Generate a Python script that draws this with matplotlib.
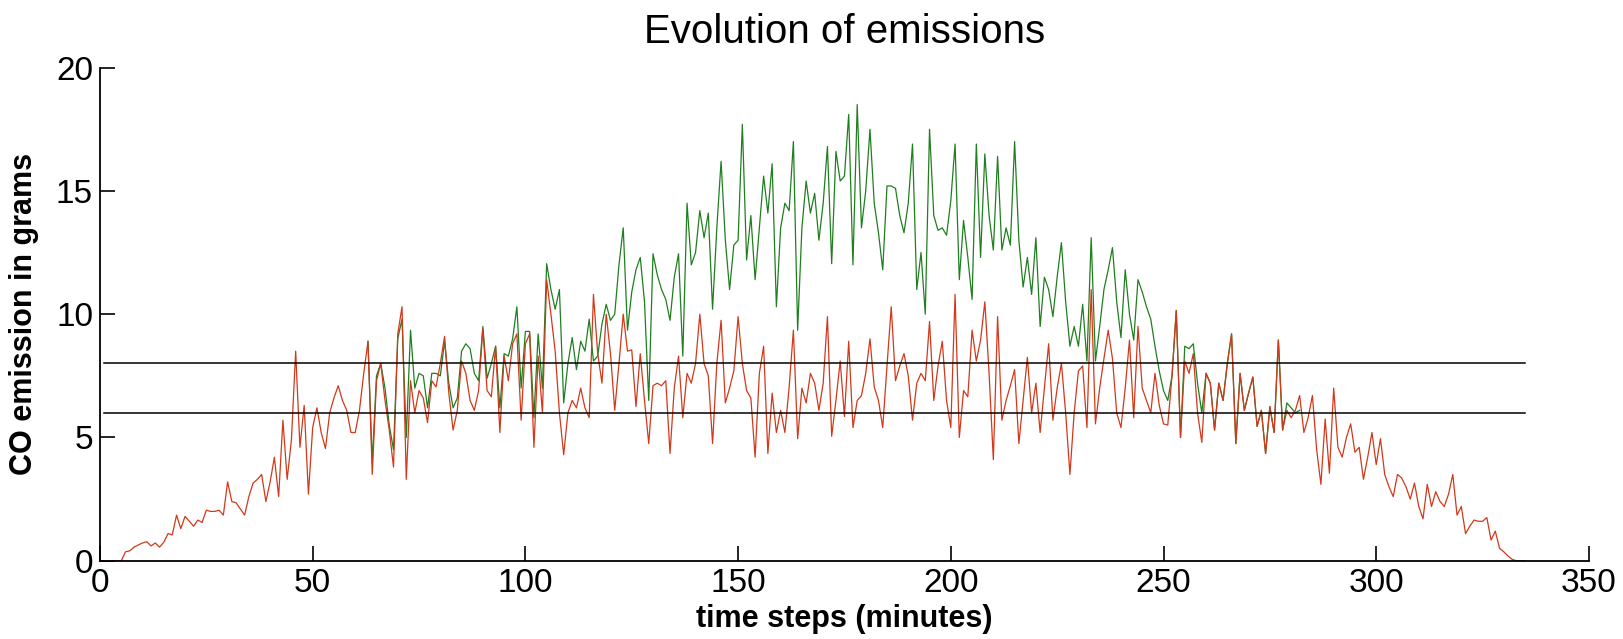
import numpy as np
import matplotlib
matplotlib.use("Agg")
import matplotlib.pyplot as plt

plt.rcParams['font.family'] = ['Liberation Sans', 'DejaVu Sans']

# time steps (minutes) of both runs
minutes = np.arange(1, 336)
minutes_green = np.arange(63, 283)

# CO emission (grams) - red run, minutes 1..335
co_red = [
    0, 0, 0, 0, 0, 0.36, 0.4, 0.55, 0.64, 0.72,
    0.77, 0.6, 0.72, 0.55, 0.75, 1.1, 1.05, 1.85, 1.3, 1.8,
    1.6, 1.4, 1.65, 1.55, 2.05, 2.0, 2.0, 2.05, 1.85, 3.2,
    2.4, 2.35, 2.1, 1.85, 2.6, 3.15, 3.3, 3.5, 2.4, 3.2,
    4.2, 2.6, 5.7, 3.3, 4.9, 8.5, 4.6, 6.3, 2.7, 5.4,
    6.2, 5.2, 4.55, 6.0, 6.6, 7.1, 6.5, 6.1, 5.2, 5.2,
    6.1, 7.6, 8.9, 3.5, 7.3, 8.0, 6.5, 5.3, 3.8, 9.2,
    10.3, 3.3, 7.3, 6.0, 6.9, 6.6, 5.6, 7.3, 7.05, 8.0,
    9.1, 6.8, 5.3, 6.1, 8.1, 7.6, 6.5, 6.1, 6.9, 9.4,
    6.9, 6.65, 8.7, 5.2, 8.3, 7.3, 8.8, 9.2, 5.7, 8.8,
    9.2, 4.6, 8.3, 6.0, 11.4, 10.0, 8.5, 6.0, 4.3, 6.0,
    6.5, 6.2, 7.0, 6.2, 5.8, 10.8, 8.4, 7.2, 10.0, 8.4,
    6.1, 8.0, 10.0, 8.5, 8.55, 6.25, 8.4, 6.5, 4.75, 7.1,
    7.2, 7.1, 7.3, 4.35, 7.0, 8.3, 5.8, 7.6, 7.2, 8.0,
    10.0, 8.0, 7.5, 4.75, 8.0, 9.75, 6.4, 7.0, 7.7, 9.9,
    8.0, 6.9, 6.6, 4.2, 7.6, 8.7, 4.35, 6.8, 5.2, 6.1,
    5.2, 7.05, 9.35, 4.95, 7.0, 6.4, 7.6, 7.2, 6.1, 7.2,
    9.9, 5.05, 6.5, 8.1, 5.85, 8.9, 5.4, 6.5, 6.7, 7.6,
    9.0, 7.05, 6.5, 5.4, 7.9, 10.3, 7.3, 7.9, 8.4, 7.5,
    5.7, 7.2, 7.6, 7.3, 9.7, 6.5, 7.9, 8.9, 6.5, 5.4,
    10.8, 5.0, 6.9, 6.65, 9.35, 8.1, 8.95, 10.5, 7.6, 4.1,
    9.9, 5.7, 6.5, 7.1, 7.75, 4.75, 6.5, 8.25, 6.0, 7.2,
    5.2, 7.0, 8.8, 5.7, 7.0, 8.0, 6.0, 3.5, 6.0, 7.7,
    7.9, 5.4, 11.0, 5.55, 7.0, 8.2, 9.35, 8.2, 6.0, 5.4,
    7.0, 8.95, 5.8, 9.5, 7.0, 6.5, 6.0, 7.6, 6.3, 5.55,
    5.5, 7.5, 10.15, 5.0, 8.1, 7.6, 8.4, 6.0, 4.8, 7.6,
    7.2, 5.3, 7.2, 6.5, 8.0, 9.2, 4.75, 7.6, 6.1, 6.8,
    7.45, 5.45, 6.1, 4.35, 6.25, 5.2, 8.95, 5.3, 6.1, 5.8,
    6.1, 6.7, 5.2, 5.8, 6.7, 4.5, 3.1, 5.75, 3.55, 7.0,
    4.6, 4.2, 5.0, 5.55, 4.4, 4.6, 3.3, 4.2, 5.2, 3.9,
    4.95, 3.5, 3.0, 2.6, 3.5, 3.35, 3.0, 2.5, 3.15, 2.2,
    1.7, 3.1, 2.2, 2.8, 2.4, 2.2, 2.7, 3.5, 1.85, 2.2,
    1.1, 1.4, 1.65, 1.6, 1.6, 1.75, 0.84, 1.2, 0.5, 0.36,
    0.19, 0.05, 0, 0, 0,
]

# CO emission (grams) - green run, minutes 63..282 (same as red outside)
co_green = [
    8.9, 4.0, 7.5, 8.0, 7.0, 5.5, 4.5, 9.0,
    9.8, 5.0, 9.35, 7.0, 7.6, 7.5, 6.2, 7.6, 7.6, 7.5,
    8.9, 7.2, 6.2, 6.6, 8.5, 8.8, 8.6, 7.6, 7.3, 9.5,
    7.4, 8.0, 8.7, 6.2, 8.4, 8.3, 9.0, 10.3, 7.0, 9.3,
    9.3, 5.8, 9.2, 7.0, 12.05, 11.0, 10.2, 11.0, 6.4, 8.0,
    9.05, 7.75, 8.9, 8.5, 9.8, 8.1, 8.3, 9.6, 10.4, 9.75,
    10.0, 12.0, 13.5, 9.35, 10.9, 11.8, 12.3, 10.5, 6.5, 12.45,
    11.6, 11.0, 10.6, 9.75, 11.5, 12.45, 8.3, 14.5, 12.0, 12.5,
    14.2, 13.1, 14.1, 10.2, 13.5, 16.2, 13.0, 11.0, 12.8, 13.0,
    17.7, 12.2, 14.0, 11.4, 13.5, 15.6, 14.1, 16.1, 10.3, 13.5,
    14.5, 14.2, 17.0, 9.35, 13.5, 15.4, 14.1, 14.9, 13.0, 14.5,
    16.8, 12.05, 16.6, 15.4, 15.6, 18.1, 12.0, 18.5, 13.5, 15.0,
    17.5, 14.5, 13.3, 11.8, 15.2, 15.2, 15.1, 14.0, 13.3, 14.5,
    16.9, 11.0, 12.5, 10.0, 17.5, 14.0, 13.4, 13.5, 13.2, 14.6,
    16.9, 11.4, 13.8, 12.3, 10.6, 16.9, 12.3, 16.5, 14.0, 12.6,
    16.4, 12.6, 13.5, 12.8, 17.0, 13.0, 11.1, 12.3, 10.8, 13.1,
    9.5, 11.5, 11.0, 9.9, 11.5, 12.9, 10.5, 8.7, 9.5, 8.7,
    10.4, 8.1, 13.1, 8.1, 9.5, 11.0, 11.8, 12.7, 10.5, 9.05,
    11.8, 10.0, 8.95, 11.4, 10.9, 10.3, 9.8, 8.7, 7.7, 6.9,
    6.5, 7.5, 10.15, 5.0, 8.7, 8.6, 8.8, 7.2, 6.0, 7.6,
    7.2, 5.3, 7.2, 6.5, 8.0, 9.2, 4.75, 7.6, 6.1, 6.8,
    7.45, 5.45, 6.1, 4.35, 6.25, 5.2, 8.95, 5.3, 6.4, 6.2,
    6.0, 6.1,
]

# limits drawn as horizontal lines
limits = [6, 8]
limit_span = [1, 335]

fig = plt.figure(figsize=(16.23, 6.39), dpi=100)
ax = fig.add_axes([0.0616, 0.1225, 0.9174, 0.7717])

ax.plot(minutes_green, co_green, color='#1f7f1f', linewidth=0.9)
ax.plot(minutes, co_red, color='#d2381a', linewidth=0.9)
for lim in limits:
    ax.plot(limit_span, [lim, lim], color='black', linewidth=1.1)

ax.set_xlim(0, 350)
ax.set_ylim(0, 20)
ax.set_xticks(np.arange(0, 351, 50))
ax.set_yticks(np.arange(0, 21, 5))

# matlab look: no box, ticks inside
for s in ['top', 'right']:
    ax.spines[s].set_visible(False)
for s in ['left', 'bottom']:
    ax.spines[s].set_linewidth(1.3)
ax.tick_params(direction='in', length=10.8, width=1.2, labelsize=24, pad=5)

ax.set_title("Evolution of emissions", fontsize=29, pad=18)
ax.set_xlabel("time steps (minutes)", fontsize=22, fontweight='bold', labelpad=4)
ax.set_ylabel("CO emission in grams", fontsize=22, fontweight='bold', labelpad=12)

plt.savefig("out.png", dpi=100)
